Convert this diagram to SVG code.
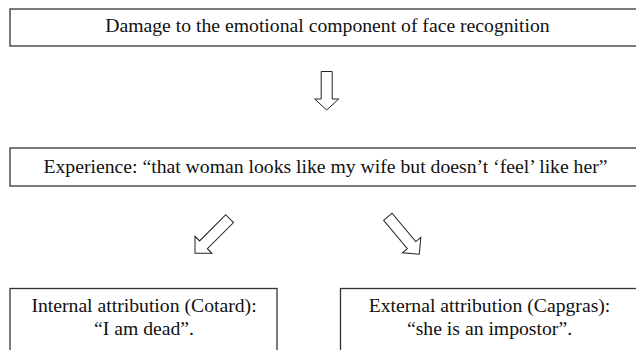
<svg xmlns="http://www.w3.org/2000/svg" width="636" height="350" viewBox="0 0 636 350">
<style>
.box{fill:#fff;stroke:#333;stroke-width:1.3}
.t{font-family:"Liberation Serif","Times New Roman",serif;font-size:19.7px;fill:#111;text-anchor:middle}
.arr{fill:#fff;stroke:#222;stroke-width:1;stroke-linejoin:miter}
</style>
<defs>
<path id="bigArrow" d="M -5.5,-38.5 H 5.5 V -11 H 12 L 0,0 L -12,-11 H -5.5 Z"/>
<path id="bigArrowLong" d="M -5.5,-49 H 5.5 V -12 H 12 L 0,0 L -12,-12 H -5.5 Z"/>
</defs>
<rect width="636" height="350" fill="#fff"/>
<g id="n1">
<rect class="box" x="10" y="9" width="640" height="37"/>
<text class="t" x="327.5" y="32">Damage to the emotional component of face recognition</text>
</g>
<g id="n2">
<rect class="box" x="10" y="148" width="640" height="38"/>
<text class="t" x="325.5" y="173">Experience: “that woman looks like my wife but doesn’t ‘feel’ like her”</text>
</g>
<g id="n3">
<rect class="box" x="10" y="288.5" width="267" height="80"/>
<text class="t" x="144" y="311.5">Internal attribution (Cotard):</text>
<text class="t" x="144" y="335">“I am dead”.</text>
</g>
<g id="n4">
<rect class="box" x="340.5" y="288.5" width="320" height="80"/>
<text class="t" x="489.5" y="311.5">External attribution (Capgras):</text>
<text class="t" x="489.5" y="335">“she is an impostor”.</text>
</g>
<g id="connectors">
<use href="#bigArrow" class="arr" transform="translate(326.7,110)"/>
<use href="#bigArrowLong" class="arr" transform="translate(195,253.3) rotate(45)"/>
<use href="#bigArrowLong" class="arr" transform="translate(419.3,254.3) rotate(-40)"/>
</g>
</svg>
